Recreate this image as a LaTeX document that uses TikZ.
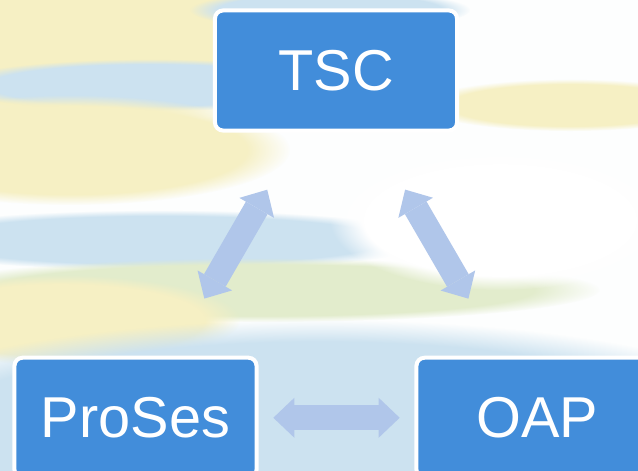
\documentclass[tikz,border=0pt]{standalone}
\usepackage{fontspec}
\setmainfont{Liberation Sans}
\usetikzlibrary{arrows.meta,fadings}

\definecolor{boxblue}{RGB}{66,141,218}
\definecolor{linkblue}{RGB}{176,198,234}
\definecolor{skyblue}{RGB}{204,226,240}
\definecolor{skycream}{RGB}{246,240,196}
\definecolor{skygreen}{RGB}{226,236,204}

\tikzset{
  topic/.style={draw=white, line width=0.1cm, fill=boxblue, rounded corners=0.2cm,
    minimum width=6.05cm, minimum height=3cm, inner sep=0pt,
    text=white, font=\fontsize{41}{49}\selectfont},
  link/.style={{Triangle[width=1cm,length=0.525cm,line width=0pt]}-{Triangle[width=1cm,length=0.525cm,line width=0pt]},
    draw=linkblue, line width=0.625cm},
  wash/.style={fill=#1, path fading=circle with fuzzy edge 20 percent}
}

\begin{document}
\begin{tikzpicture}[x=0.025cm, y=-0.025cm]
\clip (0,0) rectangle (638,470);

% watercolour sky behind the diagram
\fill[white!97!skyblue] (0,0) rectangle (638,470);
\fill[wash=skycream] (90,45) ellipse (260 and 80);
\fill[wash=skyblue] (330,10) ellipse (140 and 20);
\fill[wash=skyblue] (150,85) ellipse (200 and 26);
\fill[wash=skycream] (70,150) ellipse (220 and 55);
\fill[wash=skycream] (570,105) ellipse (150 and 26);
\fill[wash=skyblue] (160,240) ellipse (280 and 30);
\fill[wash=skygreen] (260,290) ellipse (340 and 32);
\fill[wash=skycream] (60,320) ellipse (180 and 45);
\fill[wash=skyblue] (320,430) ellipse (480 and 110);
\fill[wash=white] (500,220) ellipse (170 and 70);

% topics
\node[topic] (tsc) at (336,70.5) {TSC};
\node[topic] (proses) at (135.5,417.75) {ProSes};
\node[topic] (oap) at (537.5,417.75) {OAP};

% two-way links
\draw[link, shorten <=1.65cm, shorten >=1.65cm] (proses) -- (tsc);
\draw[link, shorten <=1.65cm, shorten >=1.65cm] (tsc) -- (oap);
\draw[link, shorten <=0.37cm, shorten >=0.37cm] (proses) -- (oap);
\end{tikzpicture}
\end{document}
